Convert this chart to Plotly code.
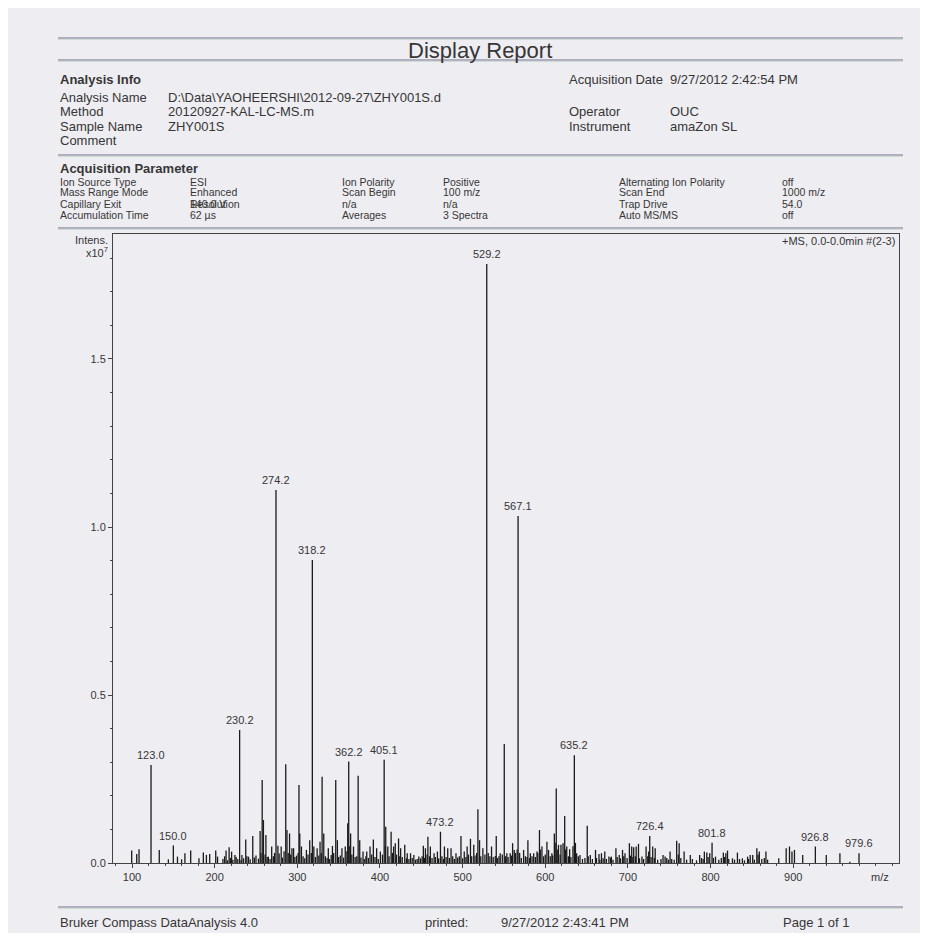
import plotly.graph_objects as go

# ---------------- data (m/z, intensity in units of 1e7) ----------------
peak_mz = [99.6, 105.7, 108.5, 123.0, 133, 144, 150.0, 155, 160, 164, 171, 181, 186.3, 190, 194,
           201.3, 203.5, 213.8, 217.5, 220.5, 224.5, 230.2, 233, 237.6, 241, 246.1, 255, 257.5, 259,
           262, 265, 269, 274.2, 276.5, 280.5, 286, 287.5, 290.6, 293.5, 295.5, 302, 303, 305, 311,
           315, 318.2, 320, 324, 327.5, 330, 332, 337.5, 342.5, 346.5, 348.5, 354, 358, 361, 362.2,
           364.5, 368, 373.6, 375.5, 379.5, 384, 388, 392, 396, 400.5, 405.1, 407, 409.5, 413.5,
           416.5, 418.5, 422.5, 425, 430, 433, 437, 441, 447, 452.5, 455, 458, 461, 465.5, 469.5,
           473.2, 478, 482, 486, 492, 498, 502, 505.5, 509.5, 513.5, 518.5, 520.5, 524.5, 529.2,
           535, 539.5, 540.7, 545.5, 550.4, 553.5, 557.6, 560.5, 562.5, 567.1, 573.8, 579, 582, 586,
           590, 593, 596, 602, 604, 608, 611, 613.3, 616, 619, 621.5, 623.5, 626, 629.5, 635.2, 638,
           642, 650.8, 654.5, 660.8, 665, 668, 672, 677, 680, 685.5, 689.5, 693.5, 696.5, 701.8,
           704.6, 707, 710, 712.8, 717, 722, 725, 726.4, 730, 733, 742.5, 745, 751, 759, 762, 768,
           775.5, 786.8, 792.5, 795.5, 799, 801.8, 806, 815.5, 818.5, 820.5, 826.5, 832.5, 838.5,
           844.8, 848, 851, 856, 859, 867, 882.5, 891.5, 895.5, 898.5, 901.5, 911.5, 926.8, 940,
           956.5, 968.5, 979.6]
peak_int = [0.037, 0.027, 0.041, 0.292, 0.039, 0.011, 0.052, 0.019, 0.011, 0.029, 0.037, 0.014, 0.031, 0.024, 0.027,
            0.037, 0.019, 0.037, 0.047, 0.034, 0.024, 0.396, 0.024, 0.070, 0.019, 0.080, 0.095, 0.247, 0.128,
            0.083, 0.019, 0.049, 1.110, 0.051, 0.049, 0.294, 0.098, 0.088, 0.044, 0.044, 0.232, 0.088, 0.049, 0.039,
            0.068, 0.902, 0.049, 0.044, 0.063, 0.257, 0.088, 0.044, 0.051, 0.247, 0.068, 0.044, 0.049, 0.118, 0.302,
            0.088, 0.049, 0.260, 0.068, 0.034, 0.034, 0.049, 0.070, 0.044, 0.034, 0.307, 0.108, 0.049, 0.093,
            0.049, 0.059, 0.073, 0.044, 0.054, 0.029, 0.029, 0.024, 0.019, 0.051, 0.044, 0.078, 0.049, 0.029, 0.034,
            0.093, 0.049, 0.044, 0.044, 0.029, 0.080, 0.034, 0.049, 0.072, 0.054, 0.160, 0.068, 0.044, 1.783,
            0.049, 0.021, 0.080, 0.029, 0.354, 0.029, 0.029, 0.059, 0.039, 1.033, 0.039, 0.068, 0.029, 0.029,
            0.034, 0.098, 0.049, 0.063, 0.039, 0.029, 0.088, 0.222, 0.054, 0.054, 0.059, 0.140, 0.049, 0.041, 0.321, 0.029,
            0.024, 0.111, 0.024, 0.039, 0.027, 0.029, 0.034, 0.019, 0.019, 0.044, 0.024, 0.039, 0.029, 0.059,
            0.049, 0.047, 0.049, 0.057, 0.019, 0.049, 0.034, 0.080, 0.049, 0.044, 0.024, 0.019, 0.034, 0.066, 0.059, 0.034,
            0.024, 0.024, 0.034, 0.031, 0.029, 0.060, 0.019, 0.031, 0.029, 0.037, 0.014, 0.031, 0.014,
            0.019, 0.024, 0.024, 0.044, 0.034, 0.034, 0.014, 0.044, 0.049, 0.034, 0.039, 0.024, 0.049, 0.024,
            0.029, 0.004, 0.029]

noise_mz = [210, 212, 215.5, 219, 222, 226, 228, 232, 235, 239, 243, 248, 250, 253, 256, 261, 263.5, 267,
            271, 272.5, 278, 282, 284, 289, 292, 297, 299, 301, 307, 309, 313, 317, 322, 326, 329, 334,
            336, 339, 341, 344, 350, 352, 356, 360, 363.5, 366, 370, 372, 377, 381, 383, 386, 390, 394,
            398, 403, 406.5, 411, 415, 420, 424, 427, 432, 435, 439, 443, 445, 449, 451, 454, 457, 460,
            463, 467, 471, 475, 477, 480, 484, 488, 490, 494, 496, 500, 504, 507, 511, 515, 517, 522,
            527, 531, 533, 537, 542, 544, 548, 552, 555, 559, 564, 566, 569, 571, 576, 578, 581, 584,
            588, 591, 594, 598, 600, 606, 609, 612, 614.5, 618, 624.5, 628, 631, 633.5, 636.5, 640, 645,
            648, 652, 657, 662, 666, 670, 674, 679, 682, 687, 691, 695, 699, 703, 706, 709, 714, 719,
            724, 728, 732, 736, 740, 747, 749, 753, 756, 761, 764, 771, 778, 783, 789, 791, 797, 803.5,
            810, 813, 817, 822, 829, 835, 841, 846, 853, 857.5, 862, 865, 869]
noise_int = [0.012, 0.020, 0.008, 0.015, 0.010, 0.018, 0.012, 0.009, 0.014, 0.020, 0.011, 0.016, 0.022, 0.013, 0.030, 0.025, 0.018, 0.012,
             0.020, 0.030, 0.028, 0.016, 0.035, 0.030, 0.025, 0.018, 0.022, 0.030, 0.020, 0.014, 0.025, 0.030, 0.018, 0.022, 0.030, 0.020,
             0.015, 0.012, 0.024, 0.030, 0.018, 0.022, 0.016, 0.035, 0.050, 0.025, 0.018, 0.020, 0.016, 0.012, 0.020, 0.015, 0.025, 0.018,
             0.012, 0.025, 0.050, 0.020, 0.030, 0.025, 0.020, 0.018, 0.014, 0.012, 0.015, 0.010, 0.012, 0.014, 0.020, 0.015, 0.025, 0.020,
             0.015, 0.018, 0.014, 0.020, 0.012, 0.018, 0.015, 0.020, 0.012, 0.016, 0.020, 0.014, 0.018, 0.025, 0.020, 0.022, 0.030, 0.020,
             0.025, 0.030, 0.020, 0.018, 0.015, 0.020, 0.025, 0.020, 0.018, 0.022, 0.030, 0.040, 0.030, 0.015, 0.020, 0.018, 0.015, 0.020,
             0.018, 0.030, 0.040, 0.020, 0.025, 0.020, 0.022, 0.060, 0.040, 0.025, 0.040, 0.020, 0.018, 0.050, 0.060, 0.020, 0.012,
             0.015, 0.020, 0.012, 0.015, 0.010, 0.014, 0.012, 0.016, 0.010, 0.018, 0.014, 0.020, 0.015, 0.022, 0.018, 0.020, 0.014, 0.012,
             0.020, 0.018, 0.015, 0.010, 0.012, 0.015, 0.010, 0.012, 0.010, 0.025, 0.015, 0.010, 0.012, 0.008, 0.015, 0.012, 0.018, 0.015,
             0.010, 0.015, 0.018, 0.012, 0.010, 0.012, 0.008, 0.012, 0.010, 0.025, 0.012, 0.015, 0.010]

label_mz = [123.0, 150.0, 230.2, 274.2, 318.2, 362.2, 405.1, 473.2, 529.2, 567.1, 635.2, 726.4, 801.8, 926.8, 979.6]

x_ticks = [100, 200, 300, 400, 500, 600, 700, 800, 900]
y_ticks = [0.0, 0.5, 1.0, 1.5]
y_tick_text = ["0.0", "0.5", "1.0", "1.5"]

# ---------------- layout helpers ----------------
# the page body adds an 8px margin, so the figure is sized to fit inside it
OFF = 8
W, H = 928 - 2 * OFF, 941 - 2 * OFF
L, R, T, B = 113 - OFF, 899 - OFF, 234 - OFF, 863 - OFF
FONT = "Liberation Sans, Arial, sans-serif"
TXT = "#363636"
BG = "#eeedf2"


def px(x):  # x in reference-page pixels
    return (x - OFF - L) / (R - L)


def py(y):  # y in reference-page pixels
    return (B - (y - OFF)) / (B - T)


xs, ys = [], []
for m, h in zip(peak_mz + noise_mz, peak_int + noise_int):
    xs += [m, m, None]
    ys += [0, h, None]

fig = go.Figure(go.Scatter(x=xs, y=ys, mode="lines",
                           line=dict(color="#1a1a1a", width=1.3), hoverinfo="skip"))

ann = []
lookup = dict(zip(peak_mz, peak_int))
for m in label_mz:
    ann.append(dict(x=m, y=lookup[m], xref="x", yref="y", text=f"{m:.1f}", showarrow=False,
                    yanchor="bottom", yshift=2, font=dict(family=FONT, size=11, color=TXT)))


def text(x, y, s, size=11, anchor="left", bold=False):
    if bold:
        s = "<b>" + s + "</b>"
    ann.append(dict(x=px(x), y=py(y), xref="paper", yref="paper", text=s, showarrow=False,
                    xanchor=anchor, yanchor="middle", font=dict(family=FONT, size=size, color=TXT)))


text(480, 50, "Display Report", size=22, anchor="center")
text(58, 80, "Analysis Info", size=13, bold=True)
text(567, 80, "Acquisition Date", size=13)
text(668, 80, "9/27/2012 2:42:54 PM", size=13)
info_rows = [("Analysis Name", "D:\\Data\\YAOHEERSHI\\2012-09-27\\ZHY001S.d"),
             ("Method", "20120927-KAL-LC-MS.m"),
             ("Sample Name", "ZHY001S"),
             ("Comment", "")]
for i, (k, v) in enumerate(info_rows):
    yy = 97 + i * 14.5
    text(58, yy, k, size=13)
    if v:
        text(166, yy, v, size=13)
text(567, 111.5, "Operator", size=13)
text(668, 111.5, "OUC", size=13)
text(567, 126, "Instrument", size=13)
text(668, 126, "amaZon SL", size=13)

text(58, 168.5, "Acquisition Parameter", size=13, bold=True)
cols = [(58, ["Ion Source Type", "Mass Range Mode", "Capillary Exit", "Accumulation Time"]),
        (188, ["ESI", "Enhanced", "Resolution", "62 µs"]),
        (340, ["Ion Polarity", "Scan Begin", "n/a", "Averages"]),
        (441, ["Positive", "100 m/z", "n/a", "3 Spectra"]),
        (617, ["Alternating Ion Polarity", "Scan End", "Trap Drive", "Auto MS/MS"]),
        (780, ["off", "1000 m/z", "54.0", "off"])]
for cx, vals in cols:
    for j, v in enumerate(vals):
        text(cx, 181.5 + j * 11, v, size=10.5)
text(188, 203.5, "140.0 V", size=10.5)

text(110, 240, "Intens.", size=11, anchor="right")
text(110, 252, "x10<sup>7</sup>", size=11, anchor="right")
text(897, 241, "+MS, 0.0-0.0min #(2-3)", size=11, anchor="right")
text(880, 877, "m/z", size=11, anchor="center")

text(58, 922, "Bruker Compass DataAnalysis 4.0", size=13)
text(423, 922, "printed:", size=13)
text(499, 922, "9/27/2012 2:43:41 PM", size=13)
text(781, 922, "Page 1 of 1", size=13)

shapes = []
for yy in [38, 60, 155, 228, 907]:
    shapes.append(dict(type="line", xref="paper", yref="paper", x0=px(58), x1=px(903),
                       y0=py(yy), y1=py(yy), line=dict(color="#9c95b2", width=1.3)))
    shapes.append(dict(type="line", xref="paper", yref="paper", x0=px(58), x1=px(903),
                       y0=py(yy + 1.2), y1=py(yy + 1.2), line=dict(color="#b4cfbd", width=0.8)))

fig.update_layout(
    width=W, height=H,
    margin=dict(l=L, r=W - R, t=T, b=H - B),
    paper_bgcolor=BG, plot_bgcolor=BG,
    showlegend=False,
    annotations=ann, shapes=shapes,
    xaxis=dict(range=[77, 1028], tickmode="array", tickvals=x_ticks,
               ticks="outside", ticklen=4, tickcolor="#444", showline=True, linecolor="#444",
               linewidth=1, mirror=True, showgrid=False, zeroline=False,
               tickfont=dict(family=FONT, size=11, color=TXT),
               minor=dict(tickmode="linear", tick0=0, dtick=20, ticks="outside", ticklen=2,
                          tickcolor="#444", showgrid=False)),
    yaxis=dict(range=[0, 1.872], tickmode="array", tickvals=y_ticks, ticktext=y_tick_text,
               ticks="outside", ticklen=4, tickcolor="#444", showline=True, linecolor="#444",
               linewidth=1, mirror=True, showgrid=False, zeroline=False,
               tickfont=dict(family=FONT, size=11, color=TXT),
               minor=dict(tickmode="linear", tick0=0, dtick=0.1, ticks="outside", ticklen=2,
                          tickcolor="#444", showgrid=False)),
)

fig.write_html("out.html")
